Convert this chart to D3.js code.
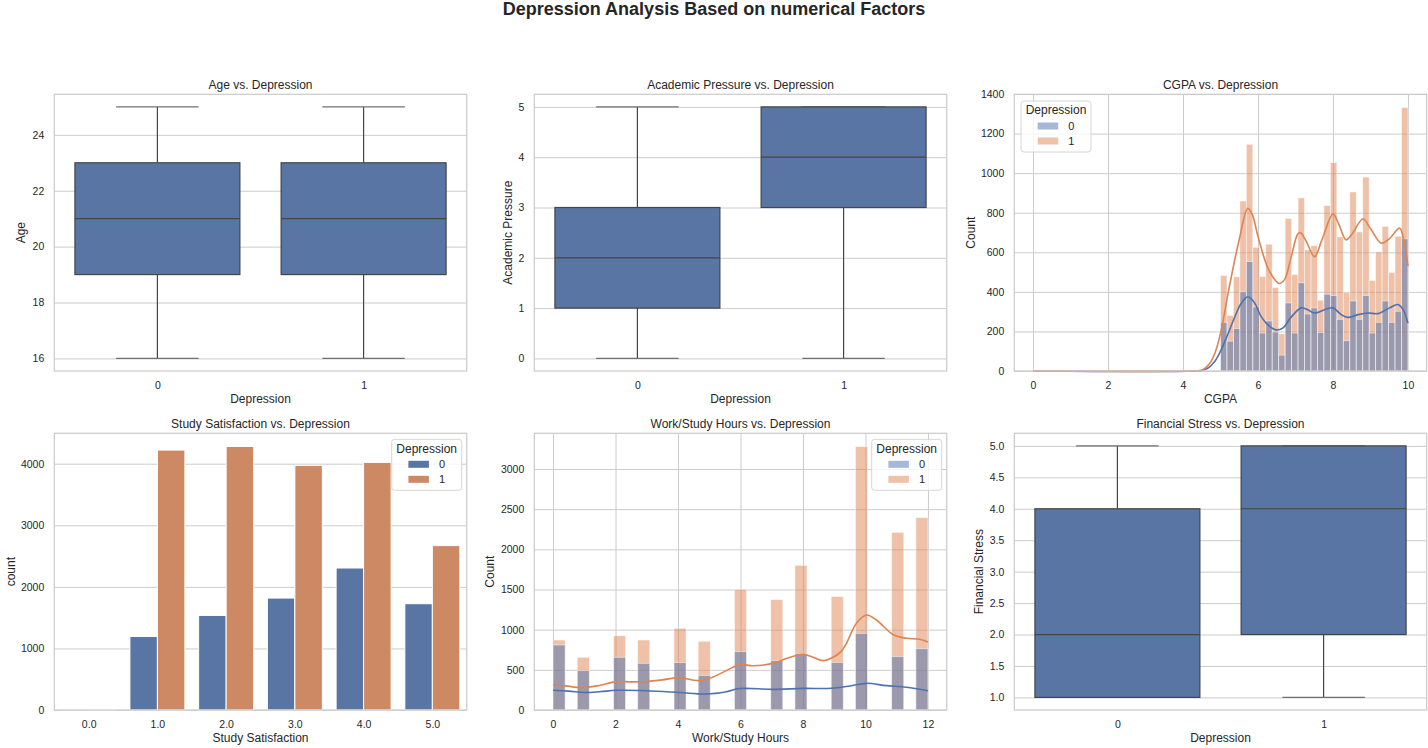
<!DOCTYPE html>
<html><head><meta charset="utf-8">
<script src="https://cdn.jsdelivr.net/npm/d3@7"></script>
<style>
body{margin:0;background:#fff;}
svg{display:block;font-family:"Liberation Sans",Arial,Helvetica,sans-serif;}
</style></head><body>
<svg id="c" width="1428" height="748"></svg>
<script>
// ---------------- DATA ----------------
const depressionGroups = ["0", "1"];

const ageStats = [
  {q1: 19, med: 21, q3: 23, lo: 16, hi: 25},
  {q1: 19, med: 21, q3: 23, lo: 16, hi: 25}
];
const academicStats = [
  {q1: 1, med: 2, q3: 3, lo: 0, hi: 5},
  {q1: 3, med: 4, q3: 5, lo: 0, hi: 5}
];
const financialStats = [
  {q1: 1, med: 2, q3: 4, lo: 1, hi: 5},
  {q1: 2, med: 4, q3: 5, lo: 1, hi: 5}
];
const ageTicks = [16, 18, 20, 22, 24];
const academicTicks = [0, 1, 2, 3, 4, 5];
const financialTicks = [1.0, 1.5, 2.0, 2.5, 3.0, 3.5, 4.0, 4.5, 5.0];

// CGPA histogram: 58 equal bins over [0, 10]
const cgpaRange = [0, 10];
const cgpaBinCount = 58;
const cgpaCounts0 = [4,0,0,0,0,0,0,0,0,0, 0,0,0,0,0,0,0,0,0,0, 0,0,0,0,0,0,0,0,0,
  246,151,215,400,553,324,192,253,197,80,344,192,446,288,319,195,388,381,261,153,354,261,381,192,246,354,246,302,668];
const cgpaCounts1 = [5,0,0,0,0,0,0,0,0,0, 0,0,0,0,0,0,0,0,0,0, 0,0,0,0,0,0,0,0,0,
  483,281,476,859,1146,625,478,641,422,188,771,488,875,612,634,358,836,1054,678,398,905,703,980,458,602,731,498,681,1332];
const cgpaKde0 = [[0,0],[4.3,0],[4.5,4],[4.66,14],[4.84,47],[5.0,100],[5.19,183],[5.37,268],[5.55,341],[5.73,375],
  [5.91,344],[6.08,276],[6.31,225],[6.48,208],[6.66,217],[6.88,271],[7.15,319],[7.3,312],[7.51,293],[7.78,310],
  [8.0,319],[8.22,285],[8.4,271],[8.67,285],[8.94,293],[9.2,290],[9.51,319],[9.73,336],[9.87,310],[10.0,242]];
const cgpaKde1 = [[0,0],[4.3,0],[4.5,3],[4.7,35],[4.85,90],[5.0,190],[5.24,430],[5.5,665],[5.73,822],[5.85,790],
  [6.0,680],[6.26,522],[6.48,454],[6.57,442],[6.71,463],[6.88,573],[7.06,692],[7.13,700],[7.28,658],[7.51,578],
  [7.7,660],[8.0,793],[8.15,745],[8.35,663],[8.5,690],[8.8,768],[9.0,720],[9.29,646],[9.5,668],[9.78,722],[9.9,650],[10.0,530]];
const cgpaXTicks = [0, 2, 4, 6, 8, 10];
const cgpaYTicks = [0, 200, 400, 600, 800, 1000, 1200, 1400];

// Study satisfaction count plot
const satisfactionCats = ["0.0", "1.0", "2.0", "3.0", "4.0", "5.0"];
const satisfactionCounts0 = [2, 1194, 1536, 1818, 2306, 1726];
const satisfactionCounts1 = [8, 4222, 4280, 3973, 4021, 2670];
const satisfactionYTicks = [0, 1000, 2000, 3000, 4000];

// Work/Study hours histogram: 31 equal bins over [0, 12]
const hoursRange = [0, 12];
const hoursBinCount = 31;
const hoursValues = [0, 1, 2, 3, 4, 5, 6, 7, 8, 9, 10, 11, 12];
const hoursCounts0 = [809, 490, 656, 581, 589, 431, 726, 614, 705, 593, 954, 664, 763];
const hoursCounts1 = [871, 656, 925, 871, 1017, 855, 1502, 1373, 1801, 1411, 3280, 2211, 2394];
const hoursKde0 = [[0,245],[0.5,235],[1.0,218],[1.5,228],[2.03,245],[2.99,240],[4.05,218],[4.9,199],[5.55,228],[5.97,267],
  [7.04,257],[8.0,269],[8.9,270],[9.5,299],[10.03,332],[10.67,303],[11.31,284],[12.0,240]];
const hoursKde1 = [[0,311],[0.4,300],[0.9,280],[1.4,300],[2.03,353],[2.5,350],[3.0,355],[3.5,375],[4.05,403],[4.5,370],
  [4.8,368],[5.12,410],[5.55,490],[5.97,565],[6.4,550],[7.04,580],[7.47,640],[8.0,693],[8.3,660],[8.64,614],[8.96,656],
  [9.2,720],[9.39,830],[9.71,1079],[10.03,1182],[10.35,1120],[10.88,940],[11.31,892],[11.73,880],[12.0,845]];
const hoursXTicks = [0, 2, 4, 6, 8, 10, 12];
const hoursYTicks = [0, 500, 1000, 1500, 2000, 2500, 3000];

// ---------------- STYLE / LAYOUT ----------------
const C = {
  text: "#262626", grid: "#cccccc", spine: "#cccccc",
  box: "#5875a4", boxLine: "#454545",
  deep0: "#4c72b0", deep1: "#dd8452",
  sat0: "#5975a4", sat1: "#cc8963"
};
const P = {
  age:   {x0: 54.3,   x1: 466.7,  y0: 94.3,  y1: 371, ylab: 25.3},
  acad:  {x0: 534.3,  x1: 946.7,  y0: 94.3,  y1: 371, ylab: 512},
  cgpa:  {x0: 1014.3, x1: 1426.7, y0: 94.3,  y1: 371, ylab: 974.6},
  sat:   {x0: 54.3,   x1: 466.7,  y0: 433.3, y1: 710, ylab: 15},
  hours: {x0: 534.3,  x1: 946.7,  y0: 433.3, y1: 710, ylab: 494},
  fin:   {x0: 1014.3, x1: 1426.7, y0: 433.3, y1: 710, ylab: 982.6}
};

const svg = d3.select("#c");
svg.append("rect").attr("width", 1428).attr("height", 748).attr("fill", "#fff");

svg.append("text").attr("x", 714).attr("y", 15).attr("text-anchor", "middle")
  .attr("font-size", 18).attr("font-weight", "bold").attr("fill", C.text)
  .text("Depression Analysis Based on numerical Factors");

function frame(p, xs, ys, cfg) {
  const g = svg.append("g");
  const w = p.x1 - p.x0, h = p.y1 - p.y0;
  const gy = g.append("g").attr("transform", `translate(${p.x0},0)`)
    .call(d3.axisLeft(ys).tickValues(cfg.yTicks).tickSize(-w).tickFormat(""));
  gy.select(".domain").remove();
  gy.selectAll("line").attr("stroke", C.grid).attr("stroke-width", 1);
  if (cfg.xGrid) {
    const gx = g.append("g").attr("transform", `translate(0,${p.y1})`)
      .call(d3.axisBottom(xs).tickValues(cfg.xTicks).tickSize(-h).tickFormat(""));
    gx.select(".domain").remove();
    gx.selectAll("line").attr("stroke", C.grid).attr("stroke-width", 1);
  }
  const marks = svg.append("g");
  const top = svg.append("g");
  const ay = top.append("g").attr("transform", `translate(${p.x0},0)`)
    .call(d3.axisLeft(ys).tickValues(cfg.yTicks).tickSize(0).tickPadding(10).tickFormat(cfg.yFmt || (d => d)));
  const ax = top.append("g").attr("transform", `translate(0,${p.y1})`)
    .call(d3.axisBottom(xs).tickValues(cfg.xTicks).tickSize(0).tickPadding(10.5).tickFormat(cfg.xFmt || (d => d)));
  [ay, ax].forEach(a => {
    a.select(".domain").remove();
    a.attr("font-family", null);
    a.selectAll("text").attr("fill", C.text).attr("font-size", 10.5);
  });
  top.append("rect").attr("x", p.x0).attr("y", p.y0).attr("width", w).attr("height", h)
    .attr("fill", "none").attr("stroke", C.spine).attr("stroke-width", 1.25);
  top.append("text").attr("x", (p.x0 + p.x1) / 2).attr("y", p.y0 - 5.8).attr("text-anchor", "middle")
    .attr("font-size", 12).attr("fill", C.text).text(cfg.title);
  top.append("text").attr("x", (p.x0 + p.x1) / 2).attr("y", p.y1 + 32).attr("text-anchor", "middle")
    .attr("font-size", 12).attr("fill", C.text).text(cfg.xLabel);
  top.append("text").attr("transform", `translate(${p.ylab},${(p.y0 + p.y1) / 2}) rotate(-90)`)
    .attr("text-anchor", "middle").attr("font-size", 12).attr("fill", C.text).text(cfg.yLabel);
  return {marks, top};
}

function legend(layer, lx, ly, items) {
  const g = layer.append("g");
  g.append("rect").attr("x", lx).attr("y", ly).attr("width", 70).attr("height", 51)
    .attr("rx", 3).attr("fill", "#fff").attr("fill-opacity", 0.8).attr("stroke", "#d6d6d6").attr("stroke-width", 1);
  g.append("text").attr("x", lx + 35).attr("y", ly + 13.3).attr("text-anchor", "middle")
    .attr("font-size", 12).attr("fill", C.text).text("Depression");
  items.forEach((it, i) => {
    const cy = ly + 25 + i * 15;
    g.append("rect").attr("x", lx + 16.7).attr("y", cy - 3.5).attr("width", 20.5).attr("height", 7)
      .attr("fill", it.color).attr("fill-opacity", it.opacity);
    g.append("text").attr("x", lx + 50.3).attr("y", cy + 3.9).attr("text-anchor", "middle")
      .attr("font-size", 11).attr("fill", C.text).text(it.label);
  });
}

function boxPanel(p, stats, ticks, yFmt, title, yLabel) {
  const xs = d3.scaleLinear().domain([-0.5, 1.5]).range([p.x0, p.x1]);
  const lo = d3.min(stats, d => d.lo), hi = d3.max(stats, d => d.hi);
  const pad = (hi - lo) * 0.05;
  const ys = d3.scaleLinear().domain([lo - pad, hi + pad]).range([p.y1, p.y0]);
  const xTickScale = d3.scalePoint().domain(depressionGroups).range([xs(0), xs(1)]);
  const f = frame(p, xTickScale, ys, {yTicks: ticks, xTicks: depressionGroups, yFmt, title, xLabel: "Depression", yLabel});
  const bw = xs(0.8) - xs(0), cw = bw / 2;
  stats.forEach((s, i) => {
    const cx = xs(i);
    const g = f.marks.append("g").attr("stroke", C.boxLine).attr("stroke-width", 1.2);
    g.append("line").attr("x1", cx).attr("x2", cx).attr("y1", ys(s.q3)).attr("y2", ys(s.hi));
    g.append("line").attr("x1", cx).attr("x2", cx).attr("y1", ys(s.q1)).attr("y2", ys(s.lo));
    g.append("line").attr("x1", cx - cw / 2).attr("x2", cx + cw / 2).attr("y1", ys(s.hi)).attr("y2", ys(s.hi)).attr("stroke", "#707070");
    g.append("line").attr("x1", cx - cw / 2).attr("x2", cx + cw / 2).attr("y1", ys(s.lo)).attr("y2", ys(s.lo)).attr("stroke", "#707070");
    g.append("rect").attr("x", cx - bw / 2).attr("width", bw).attr("y", ys(s.q3)).attr("height", ys(s.q1) - ys(s.q3))
      .attr("fill", C.box);
    g.append("line").attr("x1", cx - bw / 2).attr("x2", cx + bw / 2).attr("y1", ys(s.med)).attr("y2", ys(s.med));
  });
}

boxPanel(P.age, ageStats, ageTicks, d => d, "Age vs. Depression", "Age");
boxPanel(P.acad, academicStats, academicTicks, d => d, "Academic Pressure vs. Depression", "Academic Pressure");
boxPanel(P.fin, financialStats, financialTicks, d3.format(".1f"), "Financial Stress vs. Depression", "Financial Stress");

function histPanel(p, range, bins0, bins1, kde0, kde1, xTicks, yTicks, title, xLabel, legendPos) {
  const span = range[1] - range[0];
  const xs = d3.scaleLinear().domain([range[0] - span * 0.05, range[1] + span * 0.05]).range([p.x0, p.x1]);
  const ymax = d3.max(bins0.concat(bins1), b => b.count) * 1.05;
  const ys = d3.scaleLinear().domain([0, ymax]).range([p.y1, p.y0]);
  const f = frame(p, xs, ys, {yTicks: yTicks.filter(t => t <= ymax * 1.01), xTicks, xGrid: true, title, xLabel, yLabel: "Count"});
  const drawBars = (bins, color) => {
    f.marks.append("g").selectAll("rect").data(bins.filter(b => b.count > 0)).join("rect")
      .attr("x", b => xs(b.x0)).attr("width", b => xs(b.x1) - xs(b.x0))
      .attr("y", b => ys(b.count)).attr("height", b => ys(0) - ys(b.count))
      .attr("fill", color).attr("fill-opacity", 0.5)
      .attr("stroke", "#fff").attr("stroke-opacity", 0.6).attr("stroke-width", 0.8);
  };
  drawBars(bins1, C.deep1);
  drawBars(bins0, C.deep0);
  const line = d3.line().x(d => xs(d[0])).y(d => ys(d[1])).curve(d3.curveCatmullRom.alpha(0.5));
  f.marks.append("path").attr("d", line(kde0)).attr("fill", "none").attr("stroke", C.deep0).attr("stroke-width", 1.6);
  f.marks.append("path").attr("d", line(kde1)).attr("fill", "none").attr("stroke", C.deep1).attr("stroke-width", 1.6);
  legend(f.top, legendPos[0], legendPos[1], [
    {label: "0", color: C.deep0, opacity: 0.5}, {label: "1", color: C.deep1, opacity: 0.5}]);
}

// CGPA: one bin per count entry
const cgpaW = (cgpaRange[1] - cgpaRange[0]) / cgpaBinCount;
const cgpaBins = arr => arr.map((c, i) => ({x0: cgpaRange[0] + i * cgpaW, x1: cgpaRange[0] + (i + 1) * cgpaW, count: c}));
histPanel(P.cgpa, cgpaRange, cgpaBins(cgpaCounts0), cgpaBins(cgpaCounts1),
  cgpaKde0, cgpaKde1, cgpaXTicks, cgpaYTicks, "CGPA vs. Depression", "CGPA", [1021, 101]);

// Hours: place each integer value into its bin
const hoursW = (hoursRange[1] - hoursRange[0]) / hoursBinCount;
const hoursBins = counts => hoursValues.map((v, i) => {
  const k = Math.min(hoursBinCount - 1, Math.floor((v - hoursRange[0]) / hoursW + 1e-9));
  return {x0: hoursRange[0] + k * hoursW, x1: hoursRange[0] + (k + 1) * hoursW, count: counts[i]};
});
histPanel(P.hours, hoursRange, hoursBins(hoursCounts0), hoursBins(hoursCounts1), hoursKde0, hoursKde1,
  hoursXTicks, hoursYTicks, "Work/Study Hours vs. Depression", "Work/Study Hours", [871.7, 439.3]);

// Study satisfaction count plot
(function () {
  const p = P.sat;
  const n = satisfactionCats.length;
  const xs = d3.scaleLinear().domain([-0.5, n - 0.5]).range([p.x0, p.x1]);
  const ymax = d3.max(satisfactionCounts0.concat(satisfactionCounts1)) * 1.05;
  const ys = d3.scaleLinear().domain([0, ymax]).range([p.y1, p.y0]);
  const xt = d3.scalePoint().domain(satisfactionCats).range([xs(0), xs(n - 1)]);
  const f = frame(p, xt, ys, {yTicks: satisfactionYTicks, xTicks: satisfactionCats, title: "Study Satisfaction vs. Depression",
    xLabel: "Study Satisfaction", yLabel: "count"});
  const series = [{vals: satisfactionCounts0, color: C.sat0, off: -0.4}, {vals: satisfactionCounts1, color: C.sat1, off: 0}];
  series.forEach(s => {
    f.marks.append("g").selectAll("rect").data(s.vals).join("rect")
      .attr("x", (d, i) => xs(i + s.off)).attr("width", xs(0.4) - xs(0))
      .attr("y", d => ys(d)).attr("height", d => ys(0) - ys(d))
      .attr("fill", s.color).attr("stroke", "#fff").attr("stroke-width", 1);
  });
  legend(f.top, 391.7, 439.3, [{label: "0", color: C.sat0, opacity: 1}, {label: "1", color: C.sat1, opacity: 1}]);
})();
</script>
</body></html>
